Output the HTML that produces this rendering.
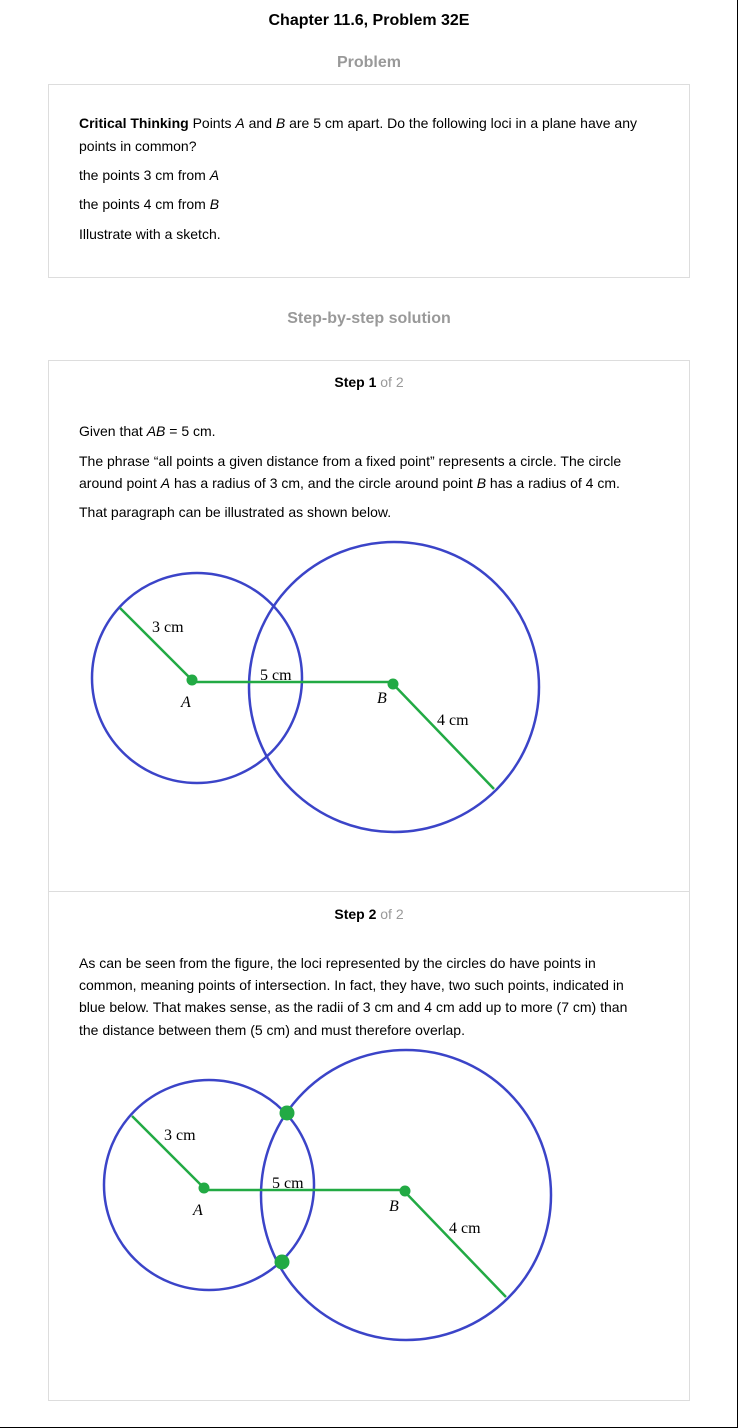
<!DOCTYPE html>
<html><head><meta charset="utf-8">
<style>
body{margin:0;width:738px;height:1428px;position:relative;background:#fff;font-family:"Liberation Sans",Arial,sans-serif;color:#000;overflow:hidden}
.frame{position:absolute;left:0;top:0;width:737px;height:1427px;border-right:1px solid #000;border-bottom:1px solid #000}
.t{position:absolute;font-size:14px;line-height:23px;white-space:nowrap}
.h{position:absolute;left:0;width:738px;text-align:center;font-weight:bold}
.box{position:absolute;left:48px;width:640px;border:1px solid #ddd}
.g{color:#999;font-weight:normal}
svg{position:absolute;left:0;top:0}
</style></head><body>
<div class="frame"></div>
<div class="h" style="top:12px;font-size:16px">Chapter 11.6, Problem 32E</div>
<div class="h" style="top:54px;font-size:16px;color:#999">Problem</div>
<div class="box" style="top:84px;height:192px"></div>
<div class="t" style="left:79px;top:112px"><b>Critical Thinking</b> Points <i>A</i> and <i>B</i> are 5 cm apart. Do the following loci in a plane have any</div>
<div class="t" style="left:79px;top:135px">points in common?</div>
<div class="t" style="left:79px;top:164px">the points 3 cm from <i>A</i></div>
<div class="t" style="left:79px;top:193px">the points 4 cm from <i>B</i></div>
<div class="t" style="left:79px;top:223px">Illustrate with a sketch.</div>
<div class="h" style="top:310px;font-size:16px;color:#999">Step-by-step solution</div>
<div class="box" style="top:360px;height:1039px"></div>
<div style="position:absolute;left:49px;top:891px;width:640px;border-top:1px solid #ddd"></div>
<div class="h" style="top:374px;font-size:14px">Step 1 <span class="g">of 2</span></div>
<div class="t" style="left:79px;top:420px">Given that <i>AB</i> = 5 cm.</div>
<div class="t" style="left:79px;top:450px">The phrase “all points a given distance from a fixed point” represents a circle. The circle</div>
<div class="t" style="left:79px;top:472px">around point <i>A</i> has a radius of 3 cm, and the circle around point <i>B</i> has a radius of 4 cm.</div>
<div class="t" style="left:79px;top:501px">That paragraph can be illustrated as shown below.</div>
<div class="h" style="top:906px;font-size:14px">Step 2 <span class="g">of 2</span></div>
<div class="t" style="left:79px;top:952px">As can be seen from the figure, the loci represented by the circles do have points in</div>
<div class="t" style="left:79px;top:974px">common, meaning points of intersection. In fact, they have, two such points, indicated in</div>
<div class="t" style="left:79px;top:996px">blue below. That makes sense, as the radii of 3 cm and 4 cm add up to more (7 cm) than</div>
<div class="t" style="left:79px;top:1019px">the distance between them (5 cm) and must therefore overlap.</div>
<svg width="738" height="1428" font-family="Liberation Serif, serif" font-size="16">
<g>
<circle cx="197" cy="678" r="105" fill="none" stroke="#3b44c8" stroke-width="2.5"/>
<circle cx="394" cy="687" r="145" fill="none" stroke="#3b44c8" stroke-width="2.5"/>
<line x1="192" y1="682" x2="393" y2="682" stroke="#22aa44" stroke-width="2.5"/>
<line x1="120" y1="608" x2="192" y2="680" stroke="#22aa44" stroke-width="2.5"/>
<line x1="393" y1="684" x2="494" y2="789" stroke="#22aa44" stroke-width="2.5"/>
<circle cx="192" cy="680" r="5.5" fill="#22aa44"/>
<circle cx="393" cy="684" r="5.5" fill="#22aa44"/>
<text x="152" y="632">3 cm</text>
<text x="260" y="680">5 cm</text>
<text x="437" y="725">4 cm</text>
<text x="181" y="707" font-style="italic">A</text>
<text x="377" y="703" font-style="italic">B</text>
</g>
<g>
<circle cx="209" cy="1185" r="105" fill="none" stroke="#3b44c8" stroke-width="2.5"/>
<circle cx="406" cy="1195" r="145" fill="none" stroke="#3b44c8" stroke-width="2.5"/>
<line x1="204" y1="1190" x2="405" y2="1190" stroke="#22aa44" stroke-width="2.5"/>
<line x1="132" y1="1116" x2="204" y2="1188" stroke="#22aa44" stroke-width="2.5"/>
<line x1="405" y1="1192" x2="506" y2="1297" stroke="#22aa44" stroke-width="2.5"/>
<circle cx="204" cy="1188" r="5.5" fill="#22aa44"/>
<circle cx="405" cy="1191" r="5.5" fill="#22aa44"/>
<circle cx="287" cy="1113" r="7.5" fill="#22aa44"/>
<circle cx="282" cy="1262" r="7.5" fill="#22aa44"/>
<text x="164" y="1140">3 cm</text>
<text x="272" y="1188">5 cm</text>
<text x="449" y="1233">4 cm</text>
<text x="193" y="1215" font-style="italic">A</text>
<text x="389" y="1211" font-style="italic">B</text>
</g>
</svg>
</body></html>
